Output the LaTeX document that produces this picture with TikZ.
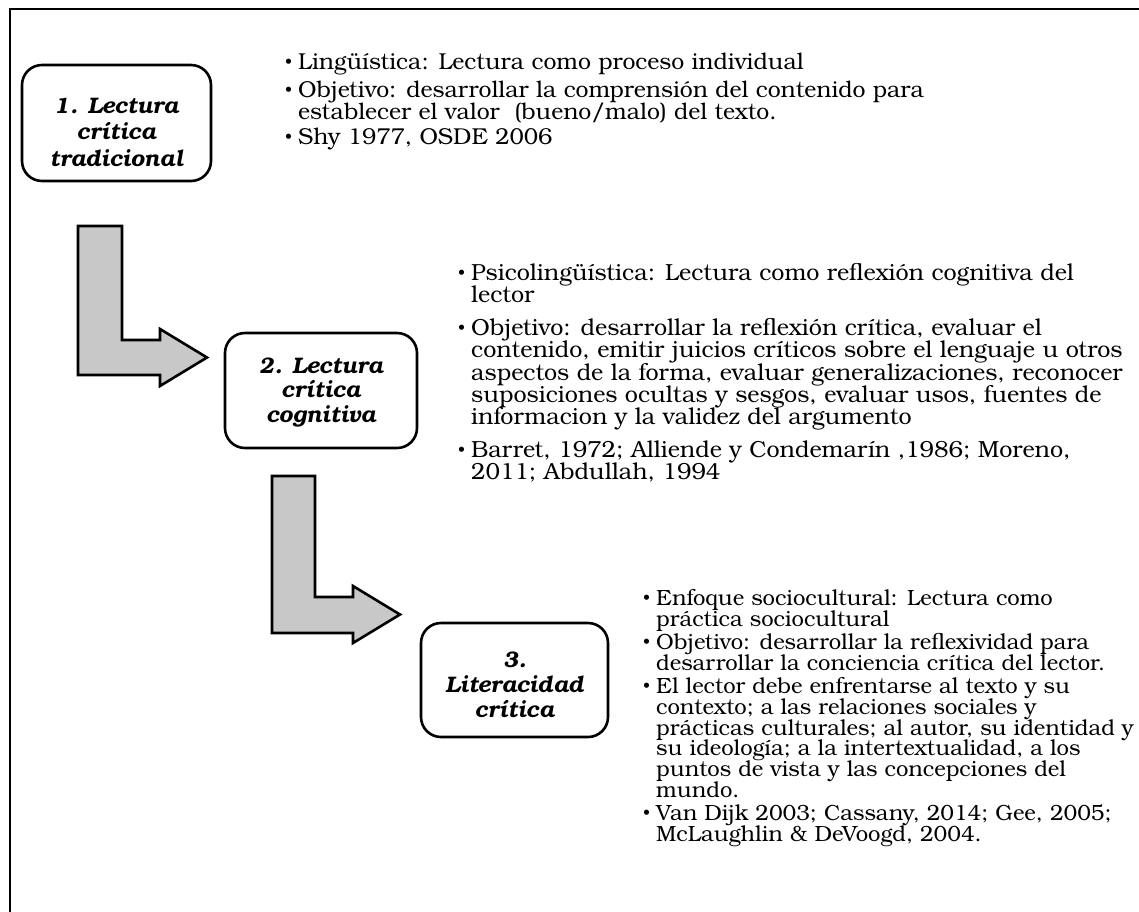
\documentclass[tikz,border=0pt]{standalone}
\usepackage{fontspec}
\setmainfont{texgyrebonum}[Extension=.otf,UprightFont=*-regular,BoldFont=*-bold,ItalicFont=*-italic,BoldItalicFont=*-bolditalic]
\definecolor{arrowgray}{RGB}{200,200,200}
\newcommand\bul{\hbox to 13pt{\raise2pt\hbox{\fontsize{15}{15}\selectfont •}\hss}}
\newcommand\tallstrut{\vrule width 0pt height 24pt depth 0pt}
\newcommand\bl[1]{\hbox{\tallstrut\bul #1}}
\newcommand\cl[1]{\hbox{\tallstrut\kern13pt #1}}
\newcommand\hl[1]{\hbox to 190pt{\tallstrut\hss #1\hss}}
\tikzset{
  hbox/.style={draw, line width=2.6pt, rounded corners=20pt, inner sep=0pt},
  htext/.style={anchor=north, inner sep=0pt},
  btext/.style={anchor=north west, inner sep=0pt},
  barrow/.style={draw, fill=arrowgray, line width=2.6pt, line join=miter},
}
\begin{document}
\begin{tikzpicture}[x=1pt,y=-1pt]
\useasboundingbox (0,0) rectangle (1139,911);
\fill[white] (0,0) rectangle (1139,911);
% frame
\draw[line width=2.2pt] (10,915) -- (10,9) -- (1145,9);
% boxes
\node[hbox, minimum width=189pt, minimum height=116pt] (b1) at (116.5,123) {};
\node[hbox, minimum width=192pt, minimum height=115pt] (b2) at (321,390.5) {};
\node[hbox, minimum width=187pt, minimum height=114pt] (b3) at (514.5,680) {};
% headings
\node[htext] (h1) at (116.5,89) {\vbox{\fontsize{22.5}{26.5}\selectfont\bfseries\itshape\lineskiplimit=-50pt
  \hl{1. Lectura}\hl{crítica}\hl{tradicional}}};
\node[htext] (h2) at (321,349) {\vbox{\fontsize{22.5}{24.5}\selectfont\bfseries\itshape\lineskiplimit=-50pt
  \hl{2. Lectura}\hl{crítica}\hl{cognitiva}}};
\node[htext] (h3) at (514.5,643) {\vbox{\fontsize{22.5}{25}\selectfont\bfseries\itshape\lineskiplimit=-50pt
  \hl{3.}\hl{Literacidad}\hl{crítica}}};
% bent arrows
\draw[barrow] (78,226) -- (122,226) -- (122,340) -- (160,340) -- (160,329) -- (207,357.5) -- (160,386) -- (160,375) -- (78,375) -- cycle;
\draw[barrow] (272,476) -- (315,476) -- (315,597) -- (353,597) -- (353,586) -- (400,614.5) -- (353,643) -- (353,633) -- (272,633) -- cycle;
% text blocks
\node[btext] (t1) at (285,45) {\vbox{\fontsize{23}{22}\selectfont\lineskiplimit=-50pt
  \bl{Lingüística: Lectura como proceso individual}\vskip6pt
  \bl{Objetivo: desarrollar la comprensión del contenido para}
  \cl{establecer el valor~ (bueno/malo) del texto.}\vskip3pt
  \bl{Shy 1977, OSDE 2006}}};
\node[btext] (t2) at (458,256) {\vbox{\fontsize{23.3}{22.2}\selectfont\lineskiplimit=-50pt
  \bl{Psicolingüística: Lectura como reflexión cognitiva del}
  \cl{lector}\vskip11pt
  \bl{Objetivo: desarrollar la reflexión crítica, evaluar el}
  \cl{contenido, emitir juicios críticos sobre el lenguaje u otros}
  \cl{aspectos de la forma, evaluar generalizaciones, reconocer}
  \cl{suposiciones ocultas y sesgos, evaluar usos, fuentes de}
  \cl{informacion y la validez del argumento}\vskip11pt
  \bl{Barret, 1972; Alliende y Condemarín ,1986; Moreno,}
  \cl{2011; Abdullah, 1994}}};
\node[btext] (t3) at (643,581) {\vbox{\fontsize{22}{20.8}\selectfont\lineskiplimit=-50pt
  \bl{Enfoque sociocultural: Lectura como}
  \cl{práctica sociocultural}\vskip2.5pt
  \bl{Objetivo: desarrollar la reflexividad para}
  \cl{desarrollar la conciencia crítica del lector.}\vskip2.5pt
  \bl{El lector debe enfrentarse al texto y su}
  \cl{contexto; a las relaciones sociales y}
  \cl{prácticas culturales; al autor, su identidad y}
  \cl{su ideología; a la intertextualidad, a los}
  \cl{puntos de vista y las concepciones del}
  \cl{mundo.}\vskip2.5pt
  \bl{Van Dijk 2003; Cassany, 2014; Gee, 2005;}
  \cl{McLaughlin \& DeVoogd, 2004.}}};
\end{tikzpicture}
\end{document}
